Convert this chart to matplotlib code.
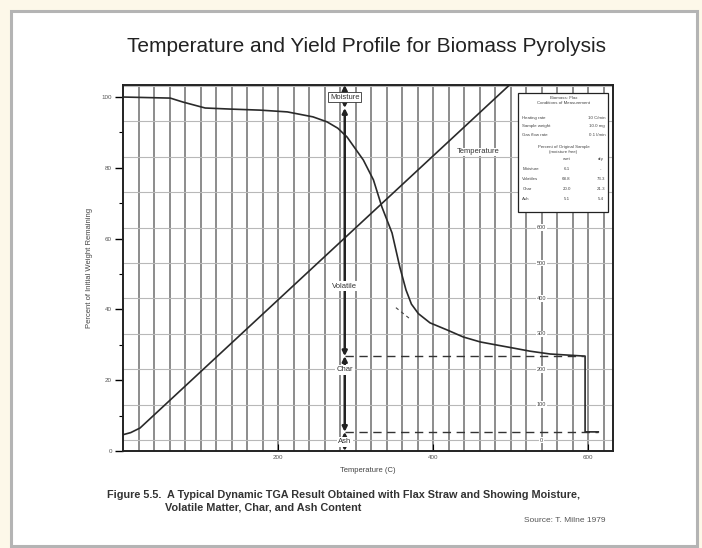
import matplotlib
matplotlib.use("Agg")
import matplotlib.pyplot as plt
from matplotlib.patches import Rectangle

plt.rcParams['font.family'] = ['Liberation Sans', 'DejaVu Sans']

# ---------------- data ----------------
x_vals = [0, 61, 77, 106, 138, 177, 212, 245, 263, 277, 289, 310, 323, 334, 347,
          357, 365, 372, 381, 396, 418, 439, 461, 483, 503, 525, 551, 596, 596, 613]
yield_pct = [100, 99.7, 98.6, 96.9, 96.6, 96.3, 95.8, 94.4, 93.0, 91.2, 88.7, 82.2,
             76.6, 68.9, 61.6, 52.0, 45.5, 41.5, 38.8, 36.2, 34.2, 32.2, 30.8, 29.9,
             29.1, 28.2, 27.4, 26.8, 5.4, 5.4]
temp_x = [0, 10, 22, 497]
temp_c = [15, 21, 34, 1000]
temp_scale_labels = [0, 100, 200, 300, 400, 500, 600]
x_ticks = [200, 400, 600]
y_ticks = [0, 20, 40, 60, 80, 100]
moisture_level = 96.9
char_level = 26.8
ash_level = 5.4
marker_x = 286
char_end_x = 596
ash_end_x = 613

title = "Temperature and Yield Profile for Biomass Pyrolysis"
caption1 = "Figure 5.5.  A Typical Dynamic TGA Result Obtained with Flax Straw and Showing Moisture,"
caption2 = "Volatile Matter, Char, and Ash Content"
source = "Source: T. Milne 1979"

def t2y(t):
    return 3.1 + t / 100.0 * 10.0

W, H = 702, 548
fig = plt.figure(figsize=(W / 100, H / 100), dpi=100, facecolor='#fdf8e9')
# white frame with grey border
frame = Rectangle((11 / W, 2 / H), 686 / W, 535 / H, transform=fig.transFigure,
                  facecolor='white', edgecolor='#b4b4b4', linewidth=2.2, zorder=-5)
fig.add_artist(frame)

ax = fig.add_axes([123 / W, (H - 451) / H, 490 / W, 366 / H])
ax.set_zorder(5)
ax.set_facecolor('white')
ax.set_xlim(0, 632)
ax.set_ylim(0, 103.4)

# grid
for gx in range(20, 632, 20):
    ax.axvline(gx, color='#6e6e6e', lw=1.1, zorder=1)
for k in range(0, 11):
    ax.axhline(t2y(k * 100), color='#b8b8b8', lw=0.8, zorder=1)

# curves
ax.plot(x_vals, yield_pct, color='#2a2a2a', lw=1.2, zorder=3)
ax.plot(temp_x, [t2y(t) for t in temp_c], color='#2a2a2a', lw=1.2, zorder=3)
ax.plot([352, 372], [40.5, 37.0], color='#444', lw=0.8, ls=(0, (3, 3)), zorder=3)

# dashed levels
ax.plot([marker_x, char_end_x], [char_level, char_level], color='#333', lw=1.0,
        ls=(0, (6, 4)), zorder=3)
ax.plot([marker_x, ash_end_x], [ash_level, ash_level], color='#333', lw=1.0,
        ls=(0, (6, 4)), zorder=3)

# vertical markers
segs = [(103.4, moisture_level), (moisture_level, char_level), (char_level, ash_level), (ash_level, 0)]
for top, bot in segs:
    ax.annotate('', xy=(marker_x, bot), xytext=(marker_x, top),
                arrowprops=dict(arrowstyle='<|-|>', color='#222', lw=1.8,
                                mutation_scale=7, shrinkA=0, shrinkB=0), zorder=4)
lab_kw = dict(ha='center', va='center', fontsize=5.5, color='#333', zorder=5)
ax.text(marker_x, 100.0, 'Moisture', bbox=dict(boxstyle='square,pad=0.25', fc='white',
        ec='#333', lw=0.6), **lab_kw)
ax.text(marker_x, 46.5, 'Volatile', bbox=dict(boxstyle='square,pad=0.2', fc='white', ec='none'), **lab_kw)
ax.text(marker_x, 23.0, 'Char', bbox=dict(boxstyle='square,pad=0.2', fc='white', ec='none'), **lab_kw)
ax.text(marker_x, 2.6, 'Ash', bbox=dict(boxstyle='square,pad=0.2', fc='white', ec='none'), **lab_kw)

# temperature label and scale
ax.text(458, 84.5, 'Temperature', fontsize=5.5, color='#333', ha='center', va='center',
        bbox=dict(boxstyle='square,pad=0.1', fc='white', ec='none'), zorder=5)
for t in temp_scale_labels:
    ax.text(540, t2y(t), str(t), fontsize=4, color='#444', ha='center', va='center',
            bbox=dict(boxstyle='square,pad=0.15', fc='white', ec='none'), zorder=5)

# info box
bx0, bx1, by0, by1 = 510, 626, 67.5, 101.2
ax.add_patch(Rectangle((bx0, by0), bx1 - bx0, by1 - by0, facecolor='white',
                       edgecolor='#222', lw=0.9, zorder=6))
bt = dict(fontsize=3.2, color='#444', zorder=7)
cx = (bx0 + bx1) / 2
ax.text(cx, 99.6, 'Biomass: Flax', ha='center', va='center', **bt)
ax.text(cx, 98.2, 'Conditions of Measurement', ha='center', va='center', **bt)
rows = [('Heating rate', '10 C/min'), ('Sample weight', '10.0 mg'), ('Gas flow rate', '0.1 l/min')]
for i, (a, b) in enumerate(rows):
    yy = 94.2 - i * 2.4
    ax.text(bx0 + 5, yy, a, ha='left', va='center', **bt)
    ax.text(bx1 - 4, yy, b, ha='right', va='center', **bt)
ax.text(cx, 86.0, 'Percent of Original Sample', ha='center', va='center', **bt)
ax.text(cx, 84.6, '(moisture free)', ha='center', va='center', **bt)
ax.text(bx0 + 62, 82.4, 'wet', ha='center', va='center', **bt)
ax.text(bx1 - 10, 82.4, 'dry', ha='center', va='center', **bt)
tab = [('Moisture', '6.1', '-'), ('Volatiles', '68.8', '73.3'), ('Char', '20.0', '21.3'),
       ('Ash', '5.1', '5.4')]
for i, (a, b, c) in enumerate(tab):
    yy = 79.6 - i * 2.8
    ax.text(bx0 + 5, yy, a, ha='left', va='center', **bt)
    ax.text(bx0 + 62, yy, b, ha='center', va='center', **bt)
    ax.text(bx1 - 10, yy, c, ha='center', va='center', **bt)

# axes styling
for s in ax.spines.values():
    s.set_color('#222')
    s.set_linewidth(1.4)
    s.set_zorder(8)
ax.set_xticks(x_ticks)
ax.set_xticklabels([str(v) for v in x_ticks])
ax.set_yticks(y_ticks)
ax.set_yticks(range(10, 101, 20), minor=True)
ax.set_yticklabels([str(v) for v in y_ticks])
ax.tick_params(axis='x', direction='in', length=5, width=0.8, labelsize=4.5,
               labelcolor='#555', pad=3)
ax.tick_params(axis='y', which='major', direction='out', length=6, width=1.0,
               labelsize=4.5, labelcolor='#555', pad=2)
ax.tick_params(axis='y', which='minor', direction='out', length=3, width=0.8)
ax.set_xlabel('Temperature (C)', fontsize=5.5, color='#444', labelpad=5)
ax.set_ylabel('Percent of Initial Weight Remaining', fontsize=5.5, color='#444', labelpad=6)

fig.text(367 / W, 1 - 47 / H, title, ha='center', va='center', fontsize=15, color='#222')
fig.text(107 / W, 1 - 495 / H, caption1, ha='left', va='center', fontsize=7.8,
         fontweight='bold', color='#333')
fig.text(165 / W, 1 - 507 / H, caption2, ha='left', va='center', fontsize=7.8,
         fontweight='bold', color='#333')
fig.text(605 / W, 1 - 521 / H, source, ha='right', va='center', fontsize=6, color='#555')

fig.savefig('out.png', dpi=100, facecolor=fig.get_facecolor())
